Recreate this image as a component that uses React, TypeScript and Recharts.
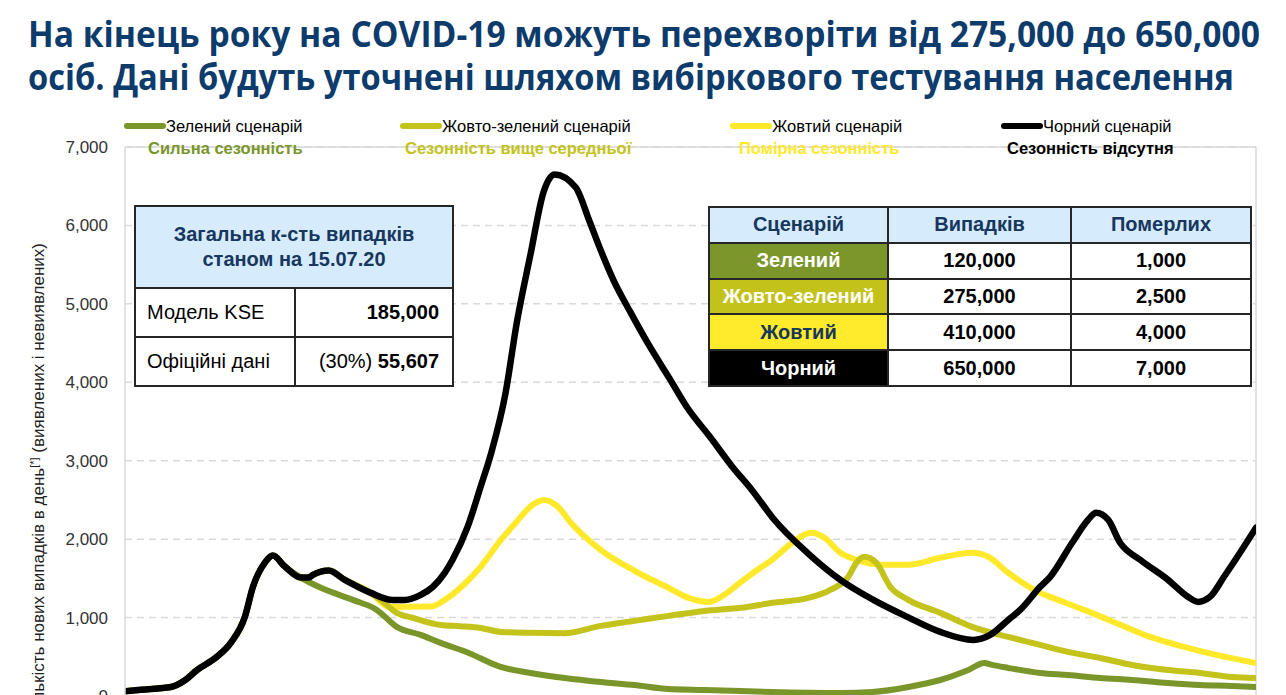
import React from 'react';
import {
  LineChart,
  Line,
  XAxis,
  YAxis,
  CartesianGrid,
  ReferenceLine,
} from 'recharts';

type Pt = [number, number];

// [day index, new cases per day]
const yTicks = [0, 1000, 2000, 3000, 4000, 5000, 6000, 7000];
const lastDay = 283;

// part of the curve that all four scenarios share
const commonStart: Pt[] = [
  [0, 60], [4, 80], [11.5, 115], [15, 200], [18, 330], [23, 500], [26.5, 680],
  [30, 1010], [32, 1390], [35, 1700], [37, 1790], [40, 1650], [44, 1510],
  [46, 1510], [47, 1545], [51, 1600], [55, 1480], [61.5, 1315],
];

const blackTail: Pt[] = [
  [67, 1225], [70, 1225], [74, 1290], [77, 1390], [80, 1570], [82, 1740],
  [85.75, 2160], [89, 2670], [91.75, 3120], [95.25, 3870], [98, 4750],
  [101.5, 5640], [104.75, 6430], [107.5, 6650], [112.75, 6487], [116.25, 6050],
  [118.75, 5720], [122.25, 5300], [126.5, 4891], [131, 4482], [136.25, 4048],
  [140.5, 3691], [146.5, 3295], [151.75, 2937], [157, 2618], [162.25, 2260],
  [170.75, 1826], [179, 1481], [187.25, 1226], [195.75, 1009], [204, 817],
  [212.25, 715], [216.5, 779], [221, 970], [224, 1098], [229, 1392],
  [231.5, 1520], [237, 1954], [241, 2248], [243, 2337], [246, 2248],
  [249, 1954], [254, 1737], [261, 1481], [266, 1264], [268.5, 1200],
  [271.5, 1264], [275, 1520], [279, 1826], [283, 2145],
];

const greenTail: Pt[] = [
  [49, 1380], [57, 1226], [63, 1098], [68, 881], [74, 779], [79, 677],
  [86, 549], [94, 370], [101.5, 294], [110, 230], [119, 179], [127.5, 140],
  [136, 89], [145, 77], [154, 64], [162, 51], [179, 38], [187, 51], [196, 115],
  [204, 204], [211, 332], [215, 421], [217, 396], [221, 358], [229, 294],
  [236, 268], [244, 230], [252, 204], [261, 166], [269, 140], [277, 128],
  [283, 115],
];

const yellowGreenTail: Pt[] = [
  [64, 1226], [68, 1060], [72, 996], [79, 905], [84, 890], [89, 868],
  [94, 817], [101.5, 805], [110, 800], [119, 894], [127.5, 958], [136, 1022],
  [145, 1085], [154, 1124], [162, 1188], [171, 1251], [176.5, 1354],
  [181, 1520], [183, 1698], [185, 1775], [188, 1698], [191.5, 1392],
  [196, 1226], [204, 1060], [212, 881], [221, 753], [229, 651], [236, 562],
  [244, 485], [252, 396], [261, 332], [269, 294], [277, 243], [283, 230],
];

const yellowTail: Pt[] = [
  [66, 1137], [70, 1137], [76.5, 1140], [80, 1226], [86, 1481], [89, 1647],
  [93.5, 1954], [98, 2222], [102, 2439], [105, 2500], [108, 2426], [112, 2184],
  [119, 1864], [127.5, 1596], [136, 1379], [141, 1251], [146, 1200],
  [150, 1290], [153.5, 1430], [158, 1600], [162, 1740], [167, 1954],
  [171.5, 2080], [175, 2018], [179, 1826], [183, 1737], [189, 1673],
  [196, 1673], [204, 1762], [212, 1826], [216, 1775], [221, 1571], [229, 1315],
  [231.5, 1264], [240, 1098], [248, 932], [256.5, 753], [265, 626], [273, 524],
  [283, 421],
];

const greenScenario = [...commonStart.slice(0, 13), ...greenTail];
const yellowGreenScenario = [...commonStart, ...yellowGreenTail];
const yellowScenario = [...commonStart, ...yellowTail];
const blackScenario = [...commonStart, ...blackTail];

const seriesNames = [
  'Зелений сценарій',
  'Жовто-зелений сценарій',
  'Жовтий сценарій',
  'Чорний сценарій',
];
const seriesSubtitles = [
  'Сильна сезонність',
  'Сезонність вище середньої',
  'Помірна сезонність',
  'Сезонність відсутня',
];
const seriesColors = ['#7a962b', '#c3c31b', '#ffe92a', '#000000'];

const scenarioNames = ['Зелений', 'Жовто-зелений', 'Жовтий', 'Чорний'];
const scenarioCases = ['120,000', '275,000', '410,000', '650,000'];
const scenarioDeaths = ['1,000', '2,500', '4,000', '7,000'];
const scenarioHeaders = ['Сценарій', 'Випадків', 'Померлих'];

const totalTitle = ['Загальна к-сть випадків', 'станом на 15.07.20'];
const totalRows = [
  { label: 'Модель KSE', prefix: '', value: '185,000' },
  { label: 'Офіційні дані', prefix: '(30%) ', value: '55,607' },
];

const titleLines = [
  'На кінець року на COVID-19 можуть перехворіти від 275,000 до 650,000',
  'осіб. Дані будуть уточнені шляхом вибіркового тестування населення',
];

const toRows = (pts: Pt[]) => pts.map(([day, cases]) => ({ day, cases }));

const FONT = '"Liberation Sans", Arial, sans-serif';
const NAVY = '#17375e';
const GRID = '#d9d9d9';
const legendX = [127, 403, 733, 1004];
const legendSubX = [148, 405, 739, 1007];
const cellBg = ['#7b962b', '#c2c21b', '#ffeb2b', '#000000'];
const cellFg = ['#ffffff', '#ffffff', NAVY, '#ffffff'];

const center: React.CSSProperties = {
  display: 'flex',
  alignItems: 'center',
  justifyContent: 'center',
};

const App: React.FC = () => {
  const lines = [
    { data: yellowScenario, color: seriesColors[2], w: 6 },
    { data: yellowGreenScenario, color: seriesColors[1], w: 6 },
    { data: greenScenario, color: seriesColors[0], w: 6 },
    { data: blackScenario, color: seriesColors[3], w: 6.5 },
  ];

  return (
    <div
      style={{
        position: 'absolute',
        left: 0,
        top: 0,
        width: 1286,
        height: 695,
        overflow: 'hidden',
        background: '#fff',
        fontFamily: FONT,
      }}
    >
      <LineChart
        width={1286}
        height={720}
        margin={{ top: 147, right: 30, bottom: 24, left: 0 }}
      >
        <CartesianGrid
          vertical={false}
          stroke={GRID}
          strokeDasharray="7 5"
          strokeWidth={1.5}
        />
        <XAxis
          type="number"
          dataKey="day"
          domain={[0, lastDay]}
          hide
          allowDataOverflow
        />
        <YAxis
          type="number"
          domain={[0, 7000]}
          ticks={yTicks}
          interval={0}
          width={125}
          tickSize={0}
          tickMargin={17}
          tickLine={false}
          axisLine={{ stroke: GRID, strokeWidth: 1.5 }}
          tick={{ fill: '#333', fontSize: 17, fontFamily: FONT }}
          tickFormatter={(v: number) => v.toLocaleString('en-US')}
        />
        <ReferenceLine y={7000} stroke={GRID} strokeWidth={1.5} />
        <ReferenceLine x={lastDay} stroke={GRID} strokeWidth={1.5} />
        {lines.map((l, i) => (
          <Line
            key={i}
            data={toRows(l.data)}
            dataKey="cases"
            type="monotone"
            stroke={l.color}
            strokeWidth={l.w}
            strokeLinecap="round"
            strokeLinejoin="round"
            dot={false}
            activeDot={false}
            isAnimationActive={false}
          />
        ))}
      </LineChart>

      <svg
        width={1286}
        height={695}
        style={{ position: 'absolute', left: 0, top: 0, pointerEvents: 'none' }}
      >
        {titleLines.map((t, i) => (
          <text
            key={i}
            x={28}
            y={47 + i * 43}
            fontFamily='"Open Sans", sans-serif'
            fontWeight={700}
            fontSize={35}
            fill="#0d3b6b"
            textLength={i === 0 ? 1232 : 1206}
            lengthAdjust="spacingAndGlyphs"
          >
            {t}
          </text>
        ))}

        {seriesNames.map((name, i) => (
          <g key={name}>
            <line
              x1={legendX[i]}
              x2={legendX[i] + 36}
              y1={126}
              y2={126}
              stroke={seriesColors[i]}
              strokeWidth={6}
              strokeLinecap="round"
            />
            <text x={legendX[i] + 39} y={132} fontFamily={FONT} fontSize={16.5} fill="#000">
              {name}
            </text>
            <text
              x={legendSubX[i]}
              y={154}
              fontFamily={FONT}
              fontSize={16.5}
              fontWeight={700}
              fill={seriesColors[i]}
            >
              {seriesSubtitles[i]}
            </text>
          </g>
        ))}

        <text
          x={44}
          y={243}
          transform="rotate(-90, 44, 243)"
          textAnchor="end"
          fontFamily={FONT}
          fontSize={17}
          fill="#222"
        >
          Кількість нових випадків в день
          <tspan fontSize={11} dy={-6}>[*]</tspan>
          <tspan dy={6}> (виявлених і невиявлених)</tspan>
        </text>
      </svg>

      {/* total cases box */}
      <div
        style={{
          position: 'absolute',
          left: 134,
          top: 205,
          width: 320,
          height: 182,
          boxSizing: 'border-box',
          padding: 2,
          background: '#262626',
          display: 'grid',
          gridTemplateColumns: '158px 1fr',
          gridTemplateRows: '80px 47px 1fr',
          gap: 2,
          fontSize: 20,
        }}
      >
        <div
          style={{
            ...center,
            gridColumn: '1 / span 2',
            background: '#d6ebfb',
            color: NAVY,
            fontWeight: 700,
            flexDirection: 'column',
            lineHeight: '25px',
          }}
        >
          {totalTitle.map((t) => (
            <div key={t}>{t}</div>
          ))}
        </div>
        {totalRows.map((r) => (
          <React.Fragment key={r.label}>
            <div
              style={{
                background: '#fff',
                display: 'flex',
                alignItems: 'center',
                paddingLeft: 11,
                color: '#000',
              }}
            >
              {r.label}
            </div>
            <div
              style={{
                background: '#fff',
                display: 'flex',
                alignItems: 'center',
                justifyContent: 'flex-end',
                paddingRight: 13,
                color: '#000',
                whiteSpace: 'pre',
              }}
            >
              {r.prefix}
              <b>{r.value}</b>
            </div>
          </React.Fragment>
        ))}
      </div>

      {/* scenario table */}
      <div
        style={{
          position: 'absolute',
          left: 708,
          top: 206,
          width: 544,
          height: 181,
          boxSizing: 'border-box',
          padding: 2,
          background: '#262626',
          display: 'grid',
          gridTemplateColumns: '177px 181px 1fr',
          gridTemplateRows: 'repeat(5, 1fr)',
          gap: 2,
          fontSize: 20,
          fontWeight: 700,
        }}
      >
        {scenarioHeaders.map((h) => (
          <div key={h} style={{ ...center, background: '#d6ebfb', color: NAVY }}>
            {h}
          </div>
        ))}
        {scenarioNames.map((n, i) => (
          <React.Fragment key={n}>
            <div style={{ ...center, background: cellBg[i], color: cellFg[i] }}>{n}</div>
            <div style={{ ...center, background: '#fff' }}>{scenarioCases[i]}</div>
            <div style={{ ...center, background: '#fff' }}>{scenarioDeaths[i]}</div>
          </React.Fragment>
        ))}
      </div>
    </div>
  );
};

export default App;
